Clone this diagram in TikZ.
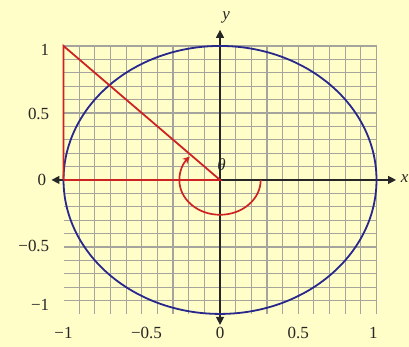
\documentclass[tikz,border=0pt]{standalone}
\usepackage{fontspec}
\setmainfont{Liberation Serif}
\usetikzlibrary{arrows.meta}
\definecolor{bg}{RGB}{255,253,200}
\definecolor{gridc}{RGB}{165,165,158}
\definecolor{bluec}{RGB}{40,40,140}
\definecolor{redc}{RGB}{205,35,35}
\begin{document}
\begin{tikzpicture}[x=156.5pt,y=134pt,
  lbl/.style={font=\fontsize{17}{19}\selectfont, text=black!85, inner sep=0pt},
  axis/.style={line width=1.2pt, black!85},
  tip/.style={-{Triangle[length=8pt,width=8pt]}}]
\fill[bg] (-1.406,-1.246) rectangle (1.2077,1.343);
\useasboundingbox (-1.406,-1.246) rectangle (1.2077,1.343);
\draw[gridc, line width=1.15pt, step=0.1] (-1,-1) grid (1.001,1.001);
\coordinate (O) at (0,0);
\coordinate (xl) at (-1.077,0);
\coordinate (xr) at (1.125,0);
\coordinate (yt) at (0,1.12);
\coordinate (yb) at (0,-1.082);
\draw[axis, tip] (O) -- (xr);
\draw[axis, tip] (O) -- (xl);
\draw[axis, tip] (O) -- (yt);
\draw[axis, tip] (O) -- (yb);
\draw[bluec, line width=1.8pt] (O) ellipse [x radius=1, y radius=1];
\coordinate (A) at (-1,1);
\coordinate (B) at (-1,0);
\draw[redc, line width=1.8pt] (B) -- (A) -- (O) -- (B);
\draw[redc, line width=1.7pt, -{Stealth[length=7pt,width=7pt]}] (0.26,0) arc[start angle=0, end angle=-222, x radius=0.26, y radius=0.26];
\node[lbl] (th) at (0.01,0.115) {\textit{θ}};
\node[lbl] (xlab) at (1.18,0.01) {\textit{x}};
\node[lbl] (ylab) at (0.04,1.215) {\textit{y}};
\node[lbl, anchor=east] (y1) at (-1.09,0.97) {1};
\node[lbl, anchor=east] (y05) at (-1.09,0.49) {0.5};
\node[lbl, anchor=east] (y0) at (-1.11,0) {0};
\node[lbl, anchor=east] (ym05) at (-1.09,-0.49) {−0.5};
\node[lbl, anchor=east] (ym1) at (-1.09,-0.93) {−1};
\node[lbl] (xm1) at (-1.0,-1.145) {−1};
\node[lbl] (xm05) at (-0.47,-1.145) {−0.5};
\node[lbl] (x0) at (0,-1.145) {0};
\node[lbl] (x05) at (0.5,-1.145) {0.5};
\node[lbl] (x1) at (0.98,-1.145) {1};
\end{tikzpicture}
\end{document}
